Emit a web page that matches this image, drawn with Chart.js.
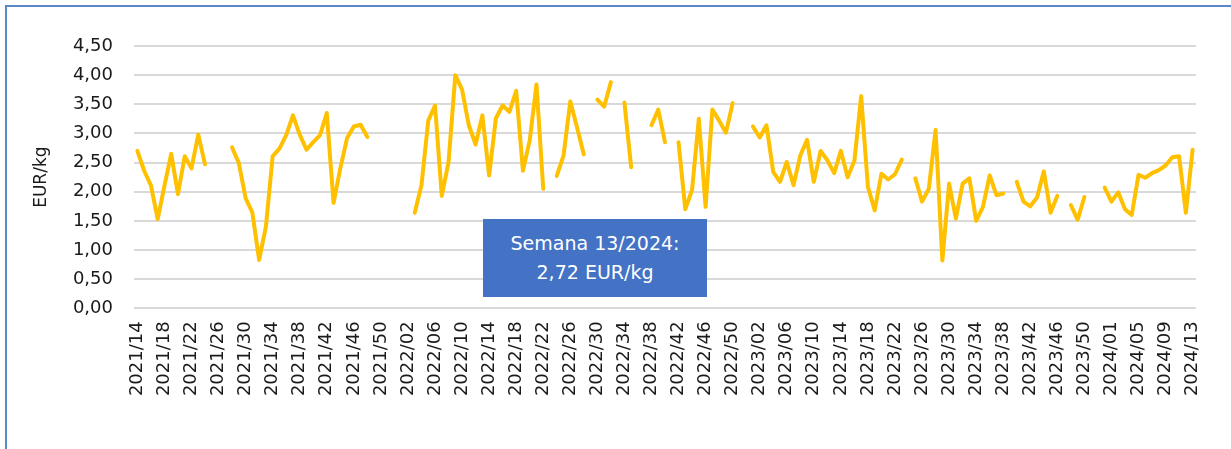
<!DOCTYPE html>
<html>
<head>
<meta charset="utf-8">
<script src="https://cdn.jsdelivr.net/npm/chart.js@4.4.0/dist/chart.umd.min.js"></script>
<style>
	body { margin: 0; background: #fff; }
	#wrap { position: relative; width: 1231px; height: 449px; overflow: hidden; }
	#frame {
		position: absolute; left: 5px; top: 5px; right: 0; bottom: -10px;
		border-left: 2px solid #5a87c5; border-top: 2px solid #5a87c5;
	}
	#note {
		position: absolute; left: 483px; top: 219px; width: 224px; height: 78px;
		background: #4472c4; color: #fff;
		font-family: "DejaVu Sans", sans-serif; font-size: 19px; line-height: 29px;
		display: flex; align-items: center; justify-content: center; text-align: center;
	}
</style>
</head>
<body>
<div id="wrap">
	<div id="frame"></div>
	<canvas id="prices" width="1231" height="449"></canvas>
	<div id="note"></div>
</div>
<script>
(function() {
	// weekly price in EUR/kg, null = no quotation that week
	var prices2021 = [2.70, 2.36, 2.11, 1.53, 2.10, 2.65, 1.96, 2.61, 2.40, 2.98, 2.47, null, null, null,
		2.76, 2.49, 1.89, 1.64, 0.83, 1.40, 2.61, 2.74, 2.97, 3.31, 2.98, 2.72, 2.85, 2.97, 3.35, 1.81,
		2.40, 2.92, 3.12, 3.15, 2.94, null, null, null, null];
	var prices2022 = [null, null, 1.64, 2.11, 3.22, 3.48, 1.93, 2.51, 4.00, 3.75, 3.14, 2.81, 3.31, 2.28,
		3.26, 3.48, 3.37, 3.73, 2.36, 2.88, 3.84, 2.05, null, 2.27, 2.62, 3.55, 3.10, 2.64, null, 3.58,
		3.46, 3.88, null, 3.53, 2.42, null, null, 3.14, 3.41, 2.85, null, 2.85, 1.70, 2.03, 3.25, 1.74,
		3.41, 3.22, 3.01, 3.52, null, null];
	var prices2023 = [3.12, 2.93, 3.14, 2.34, 2.17, 2.51, 2.11, 2.62, 2.89, 2.17, 2.70, 2.54, 2.32, 2.70,
		2.25, 2.53, 3.64, 2.08, 1.68, 2.31, 2.21, 2.30, 2.55, null, 2.23, 1.83, 2.05, 3.06, 0.82, 2.14,
		1.54, 2.14, 2.23, 1.50, 1.74, 2.28, 1.94, 1.97, null, 2.17, 1.83, 1.75, 1.90, 2.35, 1.64, 1.93,
		null, 1.77, 1.52, 1.91, null, null, 2.07];
	var prices2024 = [1.83, 1.99, 1.70, 1.60, 2.29, 2.24, 2.32, 2.37, 2.45, 2.59, 2.61, 1.64, 2.72];

	// [year, first week, last week]
	var weekRanges = [[2021, 14, 52], [2022, 1, 52], [2023, 1, 53], [2024, 1, 13]];

	var yTicks = { min: 0, max: 4.5, step: 0.5 };
	var unit = 'EUR/kg';

	var lineColor = '#ffc000';
	var textColor = '#1a1a1a';
	var fontFamily = 'DejaVu Sans';

	var weeks = [];
	weekRanges.forEach(function(r) {
		for (var w = r[1]; w <= r[2]; w++)
			weeks.push(r[0] + '/' + (w < 10 ? '0' + w : w));
	});

	var prices = prices2021.concat(prices2022, prices2023, prices2024);

	function formatPrice(v) {
		return v.toFixed(2).replace('.', ',');
	}

	function buildNote() {
		var lastWeek = weeks[weeks.length - 1].split('/');
		var lastPrice = prices[prices.length - 1];
		var note = document.getElementById('note');
		note.innerHTML = 'Semana ' + lastWeek[1] + '/' + lastWeek[0] + ':<br>' + formatPrice(lastPrice) + ' ' + unit;
	}

	new Chart(document.getElementById('prices'), {
		type: 'line',
		data: {
			labels: weeks,
			datasets: [{
				data: prices,
				borderColor: lineColor,
				borderWidth: 4,
				borderCapStyle: 'round',
				borderJoinStyle: 'round',
				pointRadius: 0,
				tension: 0,
				spanGaps: false,
				fill: false
			}]
		},
		options: {
			responsive: false,
			animation: false,
			devicePixelRatio: 1,
			layout: { padding: { top: 46, right: 35, bottom: 0, left: 0 } },
			plugins: {
				legend: { display: false },
				tooltip: { enabled: false }
			},
			scales: {
				x: {
					offset: true,
					grid: { display: false, drawTicks: false },
					border: { display: false },
					afterFit: function(scale) { scale.height = 140.7; },
					ticks: {
						autoSkip: false,
						minRotation: 90,
						maxRotation: 90,
						padding: 13,
						color: textColor,
						font: { family: fontFamily, size: 18 },
						callback: function(value, index) {
							return index % 4 === 0 ? this.getLabelForValue(value) : '';
						}
					}
				},
				y: {
					min: yTicks.min,
					max: yTicks.max,
					afterFit: function(scale) { scale.width = 134; },
					grid: { color: '#d9d9d9', lineWidth: 2, drawTicks: false },
					border: { display: false },
					ticks: {
						stepSize: yTicks.step,
						padding: 21,
						color: textColor,
						font: { family: fontFamily, size: 18 },
						callback: function(value) { return formatPrice(value); }
					},
					title: {
						display: true,
						text: unit,
						color: textColor,
						padding: { top: 31, bottom: 0 },
						font: { family: fontFamily, size: 17 }
					}
				}
			}
		}
	});

	buildNote();
}());
</script>
</body>
</html>
